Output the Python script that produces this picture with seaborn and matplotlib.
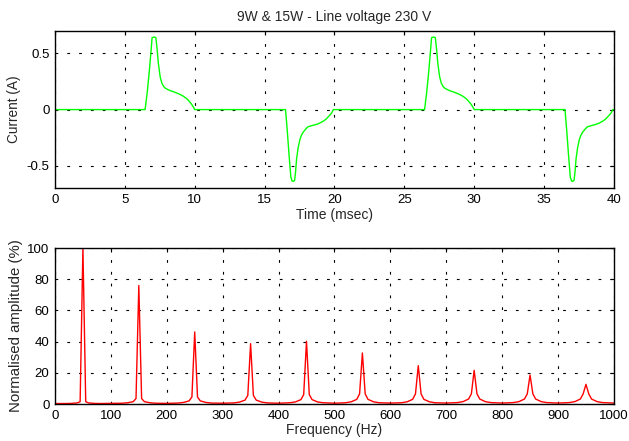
import numpy as np
import pandas as pd
import matplotlib
matplotlib.use("Agg")
import matplotlib.pyplot as plt
import seaborn as sns

# ---- current waveform (ms, A) ----
# positive conduction pulse, times measured from the start of each 20 ms cycle
pos_pulse_ms = [6.45, 6.6, 6.75, 6.9, 6.95, 7.1, 7.22, 7.3, 7.4, 7.53, 7.65, 7.78,
                7.9, 8.05, 8.25, 8.5, 8.72, 8.95, 9.2, 9.4, 9.56, 9.7, 9.8, 9.92, 10.0]
pos_pulse_a = [0.0, 0.15, 0.34, 0.56, 0.64, 0.645, 0.64, 0.55, 0.41, 0.29, 0.235, 0.205,
               0.19, 0.18, 0.168, 0.158, 0.147, 0.135, 0.118, 0.1, 0.08, 0.06, 0.044, 0.02, 0.0]
# negative conduction pulse, times measured from the start of each 20 ms cycle
neg_pulse_ms = [16.5, 16.62, 16.75, 16.88, 16.97, 17.05, 17.15, 17.22, 17.29, 17.4,
                17.53, 17.65, 17.77, 17.95, 18.1, 18.4, 18.7, 18.95, 19.2, 19.4,
                19.55, 19.7, 19.8, 19.92]
neg_pulse_a = [0.0, -0.18, -0.4, -0.6, -0.635, -0.638, -0.63, -0.55, -0.44, -0.34,
               -0.265, -0.225, -0.2, -0.172, -0.153, -0.142, -0.132, -0.12, -0.103, -0.085,
               -0.065, -0.045, -0.03, 0.0]
cycle_start_ms = [0.0, 20.0]
trace_end_ms = 40.0

# ---- harmonic spectrum (Hz, % of fundamental) ----
harmonic_hz = [50, 150, 250, 350, 450, 550, 650, 750, 850, 950]
peak_pct    = [100, 76, 46.2, 38.7, 40.2, 32.7, 24.6, 21.6, 18.6, 12.6]
skirt5_pct  = [1.5, 3.5, 4.5, 5.5, 6.0, 6.5, 6.5, 6.5, 6.5, 6.5]
skirt10_pct = [0.7, 1.5, 2.0, 2.5, 2.8, 3.0, 3.0, 3.2, 3.2, 3.2]
skirt20_pct = [0.4, 0.8, 1.0, 1.2, 1.3, 1.4, 1.4, 1.5, 1.5, 1.5]
skirt30_pct = [0.3, 0.5, 0.6, 0.7, 0.8, 0.8, 0.8, 0.9, 0.9, 0.9]
floor_hz  = [0, 100, 200, 300, 400, 500, 600, 700, 800, 900, 1000]
floor_pct = [0.3, 0.4, 0.4, 0.5, 0.5, 0.5, 0.6, 0.6, 0.6, 0.6, 0.6]

# assemble the waveform table
t_vals, i_vals = [0.0], [0.0]
for c0 in cycle_start_ms:
    t_vals += [c0 + t for t in pos_pulse_ms]
    i_vals += pos_pulse_a
    t_vals += [c0 + t for t in neg_pulse_ms]
    i_vals += neg_pulse_a
t_vals.append(trace_end_ms)
i_vals.append(0.0)
wave = pd.DataFrame({"t": t_vals, "i": i_vals})

# assemble the spectrum table
f_vals, a_vals = list(floor_hz), list(floor_pct)
for h, p, s5, s10, s20, s30 in zip(harmonic_hz, peak_pct, skirt5_pct,
                                   skirt10_pct, skirt20_pct, skirt30_pct):
    f_vals += [h - 30, h - 20, h - 10, h - 5, h, h + 5, h + 10, h + 20, h + 30]
    a_vals += [s30, s20, s10, s5, p, s5, s10, s20, s30]
spec = pd.DataFrame({"f": f_vals, "a": a_vals}).sort_values("f")
spec = spec.drop_duplicates("f")

sns.set_theme(style="white")
plt.rcParams["font.family"] = ["Liberation Sans", "DejaVu Sans"]
plt.rcParams["axes.unicode_minus"] = False
plt.rcParams["lines.scale_dashes"] = False

fig = plt.figure(figsize=(6.29, 4.41), dpi=100)
ax1 = fig.add_axes([0.0874, 0.573, 0.976 - 0.0874, 0.930 - 0.573])
ax2 = fig.add_axes([0.0874, 0.0839, 0.976 - 0.0874, 0.4376 - 0.0839])

sns.lineplot(data=wave, x="t", y="i", ax=ax1, color="#00ff00", lw=1.0,
             sort=False, estimator=None)
sns.lineplot(data=spec, x="f", y="a", ax=ax2, color="#ff0000", lw=1.0,
             sort=False, estimator=None)

ax1.set_xlim(0, 40)
ax1.set_ylim(-0.7, 0.7)
ax1.set_xticks(np.arange(0, 41, 5))
ax1.set_yticks([-0.5, 0, 0.5])
ax1.set_yticklabels(["-0.5", "0", "0.5"])
ax1.set_xlabel("Time (msec)", fontsize=10, labelpad=1.5)
ax1.set_ylabel("Current (A)", fontsize=9.8, labelpad=4)
ax1.set_title("9W & 15W - Line voltage 230 V", fontsize=10, pad=7)

ax2.set_xlim(0, 1000)
ax2.set_ylim(0, 100)
ax2.set_xticks(np.arange(0, 1001, 100))
ax2.set_yticks(np.arange(0, 101, 20))
ax2.set_xlabel("Frequency (Hz)", fontsize=10, labelpad=1)
ax2.set_ylabel("Normalised amplitude (%)", fontsize=10.8, labelpad=3)

for ax in (ax1, ax2):
    ax.grid(True, color="black", linestyle=(0, (2.0, 6.5)), linewidth=0.8)
    ax.set_axisbelow(True)
    ax.tick_params(direction="in", length=3, width=0.8, top=True, right=True,
                   labelsize=9.5, pad=4, colors="black")
    for s in ax.spines.values():
        s.set_visible(True)
        s.set_color("black")
        s.set_linewidth(1.0)

fig.savefig("out.png", dpi=100)
